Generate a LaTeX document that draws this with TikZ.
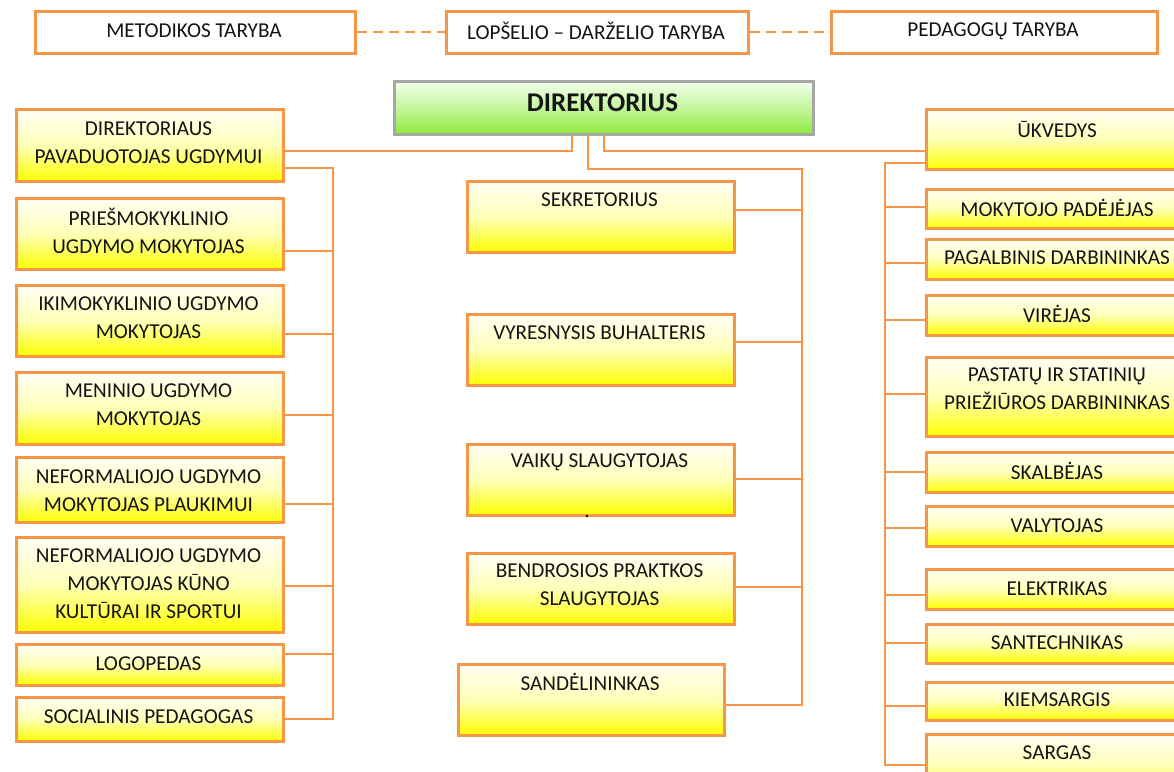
\documentclass[tikz,border=0pt]{standalone}
\usepackage{fontspec}
\setmainfont{Carlito}
\definecolor{org}{HTML}{F79646}
\definecolor{gbd}{HTML}{A6A6A6}
\definecolor{gtop}{HTML}{F2FFEB}
\definecolor{gbot}{HTML}{8CEB3C}
\tikzset{
 box/.style={draw=org, line width=2.6pt, rectangle, inner sep=0pt, anchor=north west},
 ybox/.style={box, top color=white!96!yellow, bottom color=yellow, middle color=yellow!28},
 wbox/.style={box, fill=white},
 gbox/.style={box, draw=gbd, top color=gtop, bottom color=gbot, middle color=gbot!45!gtop},
 txt/.style={font=\fontsize{21.2}{28}\selectfont, align=center, inner sep=0pt, text=black!92},
 conn/.style={draw=org, line width=2pt},
 dashconn/.style={conn, dash pattern=on 10pt off 6pt},
}
% [style]{name}{x1}{y1}{x2}{y2}{text y}{text}
\newcommand{\bx}[8][ybox]{%
 \node[#1, minimum width={#5pt-#3pt}, minimum height={#6pt-#4pt}] (#2) at (#3,#4) {};
 \node[txt] (#2t) at ({(#3+#5)/2},#7) {#8};}
\begin{document}
\begin{tikzpicture}[x=1pt,y=-1pt]
\useasboundingbox (0,0) rectangle (1174,771);
\clip (0,0) rectangle (1174,771);
% top councils
\bx[wbox]{met}{34}{10}{354}{52}{31}{METODIKOS TARYBA}
\bx[wbox]{lop}{445}{10}{747}{52}{31}{LOPŠELIO – DARŽELIO TARYBA}
\bx[wbox]{ped}{830}{10}{1156}{52}{31}{PEDAGOGŲ TARYBA}
\draw[dashconn] (met.east) -- (lop.west);
\draw[dashconn] (lop.east) -- (ped.west);
% director
\node[gbox, minimum width=419pt, minimum height=53pt] (dir) at (393,80) {};
\node[txt, font=\fontsize{27}{30}\selectfont\bfseries] (dirt) at (602.5,103) {DIREKTORIUS};
% left column
\bx{pav}{15}{108}{282}{180}{142.5}{DIREKTORIAUS\\PAVADUOTOJAS UGDYMUI}
\bx{pri}{15}{197}{282}{268}{231}{PRIEŠMOKYKLINIO\\UGDYMO MOKYTOJAS}
\bx{iki}{15}{284}{282}{355}{318}{IKIMOKYKLINIO UGDYMO\\MOKYTOJAS}
\bx{men}{15}{371}{282}{443}{405}{MENINIO UGDYMO\\MOKYTOJAS}
\bx{nfp}{15}{456}{282}{521}{490.5}{NEFORMALIOJO UGDYMO\\MOKYTOJAS PLAUKIMUI}
\bx{nfk}{15}{536}{282}{631}{584}{NEFORMALIOJO UGDYMO\\MOKYTOJAS KŪNO\\KULTŪRAI IR SPORTUI}
\bx{log}{15}{643}{282}{684}{663.5}{LOGOPEDAS}
\bx{soc}{15}{696}{282}{740}{717}{SOCIALINIS PEDAGOGAS}
% center column
\bx{sek}{466}{180}{733}{251}{200}{SEKRETORIUS}
\bx{vyr}{466}{313}{733}{384}{333}{VYRESNYSIS BUHALTERIS}
\bx{vai}{466}{443}{733}{514}{462}{VAIKŲ SLAUGYTOJAS}
\bx{ben}{466}{552}{733}{623}{584.5}{BENDROSIOS PRAKTKOS\\SLAUGYTOJAS}
\bx{san}{457}{663}{723}{734}{682}{SANDĖLININKAS}
\fill (587,516) circle (1.3pt);
% right column
\bx{ukv}{925}{108}{1189}{168}{130}{ŪKVEDYS}
\bx{mok}{925}{188}{1189}{227}{208}{MOKYTOJO PADĖJĖJAS}
\bx{pag}{925}{238}{1189}{278}{258}{PAGALBINIS DARBININKAS}
\bx{vir}{925}{294}{1189}{334}{314}{VIRĖJAS}
\bx{pas}{925}{356}{1189}{435}{389}{PASTATŲ IR STATINIŲ\\PRIEŽIŪROS DARBININKAS}
\bx{ska}{925}{451}{1189}{491}{471}{SKALBĖJAS}
\bx{val}{925}{505}{1189}{545}{526}{VALYTOJAS}
\bx{ele}{925}{568}{1189}{608}{589}{ELEKTRIKAS}
\bx{snt}{925}{623}{1189}{662}{643}{SANTECHNIKAS}
\bx{kie}{925}{681}{1189}{719}{700}{KIEMSARGIS}
\bx{sar}{925}{733}{1189}{795}{753}{SARGAS}
% bus coordinates
\coordinate (lbt) at (333,168);
\coordinate (lbb) at (333,719);
\coordinate (cbt) at (802,169);
\coordinate (cbb) at (802,705);
\coordinate (rbt) at (885,163);
\coordinate (rbb) at (885,765);
% director connectors
\draw[conn] ([xshift=-32pt]dir.south) |- ([yshift=-6pt]pav.east);
\draw[conn] ([xshift=-16pt]dir.south) |- (cbt) -- (cbb) -- (san.east |- cbb);
\draw[conn] (dir.south) |- ([yshift=-12pt]ukv.west);
% left bus
\draw[conn] (pav.east |- lbt) -- (lbt) -- (lbb) -- (soc.east |- lbb);
\draw[conn] (pri.east |- 0,251) -- (lbt |- 0,251);
\draw[conn] (iki.east |- 0,334) -- (lbt |- 0,334);
\draw[conn] (men.east |- 0,415) -- (lbt |- 0,415);
\draw[conn] (nfp.east |- 0,504) -- (lbt |- 0,504);
\draw[conn] (nfk.east |- 0,586) -- (lbt |- 0,586);
\draw[conn] (log.east |- 0,654) -- (lbt |- 0,654);
% center bus
\draw[conn] (sek.east |- 0,210) -- (cbt |- 0,210);
\draw[conn] (vyr.east |- 0,342) -- (cbt |- 0,342);
\draw[conn] (vai.east |- 0,479) -- (cbt |- 0,479);
\draw[conn] (ben.east |- 0,587) -- (cbt |- 0,587);
% right bus
\draw[conn] (ukv.west |- rbt) -- (rbt) -- (rbb) -- (sar.west |- rbb);
\draw[conn] (rbt |- 0,207) -- (mok.west |- 0,207);
\draw[conn] (rbt |- 0,263) -- (pag.west |- 0,263);
\draw[conn] (rbt |- 0,320) -- (vir.west |- 0,320);
\draw[conn] (rbt |- 0,394) -- (pas.west |- 0,394);
\draw[conn] (rbt |- 0,472) -- (ska.west |- 0,472);
\draw[conn] (rbt |- 0,528) -- (val.west |- 0,528);
\draw[conn] (rbt |- 0,595) -- (ele.west |- 0,595);
\draw[conn] (rbt |- 0,643) -- (snt.west |- 0,643);
\draw[conn] (rbt |- 0,706) -- (kie.west |- 0,706);
\end{tikzpicture}
\end{document}
